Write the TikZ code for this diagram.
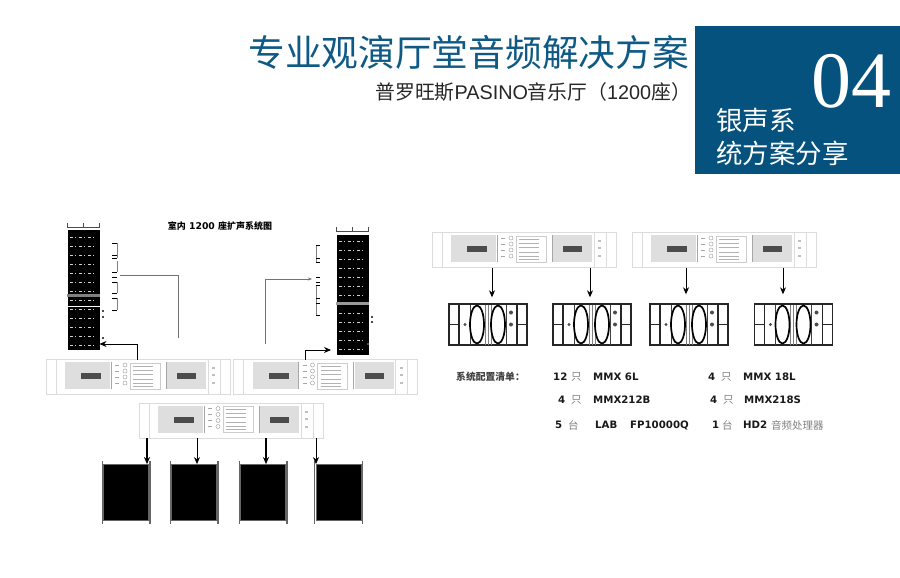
\documentclass[tikz,border=0pt]{standalone}
\usepackage{fontspec}
\usetikzlibrary{arrows.meta}
\setmainfont{Liberation Sans}
\newfontfamily\cjk{Noto Sans CJK SC}
\newfontfamily\numfont{Liberation Serif}
\newfontfamily\listfont{DejaVu Sans}
\definecolor{bluebox}{HTML}{05527F}
\definecolor{bluetitle}{HTML}{0F5A85}
\definecolor{panelgray}{HTML}{DEDEDE}
\definecolor{edgegray}{HTML}{DCDCDC}
\tikzset{
  ampbox/.style={draw=edgegray,line width=0.8pt,fill=white,minimum width=184pt,minimum height=35pt,inner sep=0pt},
  hornbox/.style={draw=black!85,line width=1.4pt,fill=white,minimum width=78pt,minimum height=41pt,inner sep=0pt},
  lowbox/.style={draw=black!60,line width=0.8pt,fill=black,minimum width=45pt,minimum height=56pt,inner sep=0pt},
  arraybox/.style={fill=black,minimum width=32pt,minimum height=123pt,inner sep=0pt},
  listtext/.style={anchor=west,inner sep=0pt,text=black!90,font=\fontsize{10.2}{11}\selectfont\listfont\bfseries},
  cjkgray/.style={anchor=west,inner sep=0pt,text=black!50,font=\fontsize{10.5}{11}\selectfont\cjk},
  pics/ampface/.style={code={
    \fill[panelgray] (-73,-15) rectangle (-28,12);
    \fill[panelgray] (29,-15) rectangle (68,12);
    \fill[black!70] (-57,-4) rectangle (-37,2);
    \fill[black!70] (39,-4) rectangle (58,2);
    \draw[edgegray,line width=0.6pt] (-82,-17) -- (-82,17) (70,-17) -- (70,17) (82,-17) -- (82,17);
    \draw[black!35,line width=0.5pt] (-27,-15) -- (-27,12) (28,-15) -- (28,12);
    \foreach \knoby in {-12,-6,0,6} {
      \draw[black!35,line width=0.5pt] (-23,\knoby) -- (-19,\knoby);
      \draw[black!35,line width=0.5pt] (-13,\knoby) circle (2);
    }
    \draw[black!20,line width=0.5pt] (-8,-14) rectangle (22,12);
    \foreach \lcdy in {-11,-7,-3,2,6,9}
      \draw[black!30,line width=0.5pt] (-5,\lcdy) -- (15,\lcdy);
    \foreach \sidey in {-10,-3,5}
      \fill[black!25] (74,\sidey) rectangle (77,\sidey+2);
  }},
  pics/hornface/.style={code={
    \draw[black!85,line width=1.3pt] (-29,-20) -- (-29,20) (29,-20) -- (29,20);
    \draw[black!85,line width=1.3pt] (-39,0) -- (-29,0) (29,0) -- (39,0);
    \draw[black!75,line width=1pt] (-18,-20) -- (-18,20) (18,-20) -- (18,20);
    \draw[black!50,line width=0.9pt] (-3,-20) -- (-3,20) (0,-20) -- (0,20) (3,-20) -- (3,20);
    \draw[black,line width=1.7pt,fill=white] (-11,0) ellipse (7 and 19);
    \draw[black,line width=1.7pt,fill=white] (10,0) ellipse (7 and 19);
    \fill[black!70] (-23,0) circle (1.7);
    \fill[black!70] (23,-12) circle (2);
    \fill[black!70] (23,0) circle (2);
  }}
}
\begin{document}
\begin{tikzpicture}[>={Stealth[length=7pt,width=6pt]},x=1pt,y=-1pt]
\useasboundingbox (0,0) rectangle (900,578);
% heading
\node[fill=bluebox,minimum width=205pt,minimum height=148pt,inner sep=0pt] (badge) at (797.5,100) {};
\node[anchor=east,inner sep=0pt,text=bluetitle,font=\fontsize{36.7}{38}\selectfont\cjk] (title) at (689,52) {专业观演厅堂音频解决方案};
\node[anchor=east,inner sep=0pt,text=black!85,font=\fontsize{19.8}{21}\selectfont] (subtitle) at (691,92) {{\cjk 普罗旺斯}PASINO{\cjk 音乐厅（}1200{\cjk 座）}};
\node[anchor=center,inner sep=0pt,text=white,font=\fontsize{80}{80}\selectfont\numfont] (number) at (851,81.5) {04};
\node[anchor=west,inner sep=0pt,text=white,font=\fontsize{26.5}{28}\selectfont\cjk] (badgea) at (716,120) {银声系};
\node[anchor=west,inner sep=0pt,text=white,font=\fontsize{26.5}{28}\selectfont\cjk] (badgeb) at (716,153) {统方案分享};
\node[inner sep=0pt,font=\fontsize{9.3}{10}\selectfont\listfont\bfseries] (plan) at (220,226) {{\fontsize{9}{10}\selectfont\cjk 室内} 1200 {\fontsize{9}{10}\selectfont\cjk 座扩声系统图}};
% line arrays
\node[arraybox] (arrayL) at (83.5,288.5) {};
\node[arraybox] (arrayR) at (352.5,293) {};
\foreach \n in {arrayL,arrayR} {
  \foreach \row in {10,19,...,118}
    \draw[black!18,line width=0.35pt,dash pattern=on 3pt off 2pt on 1pt off 3pt] ([shift={(3pt,-\row pt)}]\n.north west) -- ([shift={(-3pt,-\row pt)}]\n.north east);
  \fill[white] (\n.north west) rectangle ([yshift=-3.5pt]\n.north east);
  \draw[black!70,line width=0.6pt] ([yshift=4pt]\n.north west) -- (\n.north west) -- (\n.north east) -- ([yshift=4pt]\n.north east);
  \draw[black!70,line width=0.6pt] ([yshift=4pt]\n.north) -- (\n.north);
}
\fill[black!50] ([yshift=-67pt]arrayL.north west) rectangle ([yshift=-70pt]arrayL.north east);
\draw[white,line width=0.6pt] ([yshift=-79pt]arrayL.north west) -- ([yshift=-79pt]arrayL.north east);
\fill[black!40] ([yshift=-71pt]arrayR.north west) rectangle ([yshift=-74pt]arrayR.north east);
% small wiring beside the arrays
\draw[black!50,line width=0.5pt] (117,243) -- (117,258) (117,261) -- (117,272) (117,282) -- (117,293) (117,298) -- (117,310);
\foreach \ticky in {243,255,258,272,277,282,293,298,310}
  \draw[black,line width=0.8pt] (112,\ticky) -- (117,\ticky);
\draw[black!50,line width=0.5pt] (316,245) -- (316,262) (316,285) -- (316,315);
\foreach \ticky in {245,258,262,277,282,285,298,303,315}
  \draw[black,line width=0.8pt] (316,\ticky) -- (320,\ticky);
\foreach \dotx/\doty in {103/311,103/317,103/338,372/317,372/322,368/344}
  \fill[black!70] (\dotx-1,\doty-1) rectangle (\dotx+1,\doty+0.5);
% amplifiers
\node[ampbox] (ampL) at (138,377) {};
\node[ampbox] (ampR) at (325.5,377) {};
\node[ampbox] (ampC) at (231,420.5) {};
\node[ampbox] (ampTL) at (524,250) {};
\node[ampbox] (ampTR) at (724,250) {};
\foreach \n in {ampL,ampR,ampC,ampTL,ampTR}
  \pic at (\n) {ampface};
% lower cabinets
\node[lowbox] (lowA) at (126,492.5) {};
\node[lowbox] (lowB) at (194,492.5) {};
\node[lowbox] (lowC) at (263,492.5) {};
\node[lowbox] (lowD) at (338.5,492.5) {};
\foreach \n in {lowA,lowB,lowC,lowD} {
  \draw[black!60,line width=1.2pt] ([shift={(-1pt,3pt)}]\n.north west) -- ([shift={(-1pt,-3pt)}]\n.south west);
  \draw[black!60,line width=1.2pt] ([shift={(1pt,3pt)}]\n.north east) -- ([shift={(1pt,-3pt)}]\n.south east);
}
% horn cabinets
\node[hornbox] (hornA) at (488,324.5) {};
\node[hornbox] (hornB) at (592,324.5) {};
\node[hornbox] (hornC) at (689,324.5) {};
\node[hornbox] (hornD) at (793.5,324.5) {};
\foreach \n in {hornA,hornB,hornC,hornD}
  \pic at (\n) {hornface};
% free ends of the connectors
\coordinate (tapL) at (137,359.5);
\coordinate (hitL) at (99.5,344);
\coordinate (tapR) at (305,359.5);
\coordinate (hitR) at (331,350);
\coordinate (feedL) at (120,275);
\coordinate (feedLend) at (178,338);
\coordinate (feedR) at (265,344);
\coordinate (hitFeedR) at (312,279);
\coordinate (tapA) at (147,438);
\coordinate (tapB) at (197,438);
\coordinate (tapC) at (266,438);
\coordinate (tapD) at (316,438);
\coordinate (tapE) at (492,267.5);
\coordinate (tapF) at (590,267.5);
\coordinate (tapG) at (686,267.5);
\coordinate (tapH) at (783,267.5);
% connectors
\draw[black!55,line width=0.6pt] (feedL) -| (feedLend);
\draw[black!55,line width=0.6pt,-{Stealth[length=4pt,width=3pt]}] (feedR) |- (hitFeedR);
\draw[->,line width=0.9pt] (tapL) |- (hitL);
\draw[->,line width=0.9pt] (tapR) |- (hitR);
\draw[->,line width=1.4pt] (tapA) -- (tapA |- lowA.north);
\draw[->,line width=0.9pt] (tapB) -- (tapB |- lowB.north);
\draw[->,line width=1.4pt] (tapC) -- (tapC |- lowC.north);
\draw[->,line width=0.9pt] (tapD) -- (tapD |- lowD.north);
\draw[->,line width=0.9pt] (tapE) -- ([yshift=6pt]tapE |- hornA.north);
\draw[->,line width=0.9pt] (tapF) -- ([yshift=6pt]tapF |- hornB.north);
\draw[->,line width=0.9pt] (tapG) -- ([yshift=9pt]tapG |- hornC.north);
\draw[->,line width=0.9pt] (tapH) -- ([yshift=9pt]tapH |- hornD.north);
% configuration list
\node[listtext,font=\fontsize{9.8}{10}\selectfont\bfseries\cjk,text=black!75] (listhead) at (456,377) {系统配置清单：};
\node[listtext] (qtyA) at (553,377) {12};
\node[cjkgray] (unitA) at (571,377) {只};
\node[listtext] (itemA) at (593,377) {MMX 6L};
\node[listtext] (qtyB) at (708,377) {4};
\node[cjkgray] (unitB) at (721,377) {只};
\node[listtext] (itemB) at (743,377) {MMX 18L};
\node[listtext] (qtyC) at (558,400) {4};
\node[cjkgray] (unitC) at (571,400) {只};
\node[listtext] (itemC) at (593,400) {MMX212B};
\node[listtext] (qtyD) at (710,400) {4};
\node[cjkgray] (unitD) at (723,400) {只};
\node[listtext] (itemD) at (744,400) {MMX218S};
\node[listtext] (qtyE) at (555,425) {5};
\node[cjkgray] (unitE) at (568,425) {台};
\node[listtext] (itemE) at (595,425) {LAB};
\node[listtext] (itemF) at (630,425) {FP10000Q};
\node[listtext] (qtyF) at (712,425) {1};
\node[cjkgray] (unitF) at (722,425) {台};
\node[listtext] (itemG) at (743,425) {HD2};
\node[cjkgray] (unitG) at (771,425) {音频处理器};
\end{tikzpicture}
\end{document}
